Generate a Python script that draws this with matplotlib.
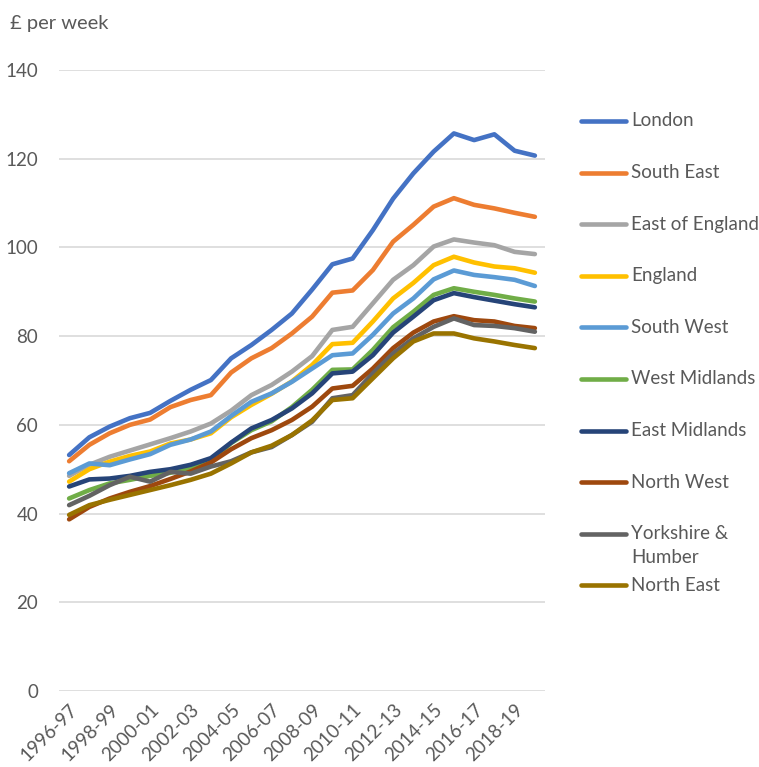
import matplotlib
matplotlib.use("Agg")
import matplotlib.pyplot as plt
from matplotlib.lines import Line2D

plt.rcParams['font.family'] = ['Lato', 'DejaVu Sans']

years = ["1996-97", "1997-98", "1998-99", "1999-00", "2000-01", "2001-02", "2002-03",
         "2003-04", "2004-05", "2005-06", "2006-07", "2007-08", "2008-09", "2009-10",
         "2010-11", "2011-12", "2012-13", "2013-14", "2014-15", "2015-16", "2016-17",
         "2017-18", "2018-19", "2019-20"]

london = [53.2, 57.2, 59.6, 61.5, 62.7, 65.4, 67.9, 70.1, 75.0, 78.0, 81.4, 85.1,
          90.5, 96.2, 97.5, 103.9, 111.0, 116.7, 121.6, 125.7, 124.2, 125.5, 121.8, 120.7]
south_east = [51.8, 55.5, 58.1, 60.0, 61.2, 64.0, 65.6, 66.7, 71.8, 75.0, 77.3, 80.6,
              84.4, 89.8, 90.3, 94.9, 101.3, 105.1, 109.2, 111.1, 109.6, 108.8, 107.8, 106.9]
east_of_england = [48.5, 51.0, 52.8, 54.2, 55.6, 57.0, 58.5, 60.3, 63.2, 66.7, 69.0, 72.0,
                   75.5, 81.4, 82.1, 87.4, 92.7, 96.0, 100.2, 101.8, 101.1, 100.5, 99.0, 98.5]
england = [47.2, 50.0, 51.7, 53.0, 54.0, 55.8, 56.7, 58.1, 61.7, 64.5, 67.0, 69.8,
           73.5, 78.2, 78.5, 83.3, 88.5, 92.0, 96.0, 97.9, 96.6, 95.7, 95.3, 94.3]
south_west = [49.1, 51.3, 50.9, 52.2, 53.4, 55.5, 56.7, 58.5, 62.0, 65.2, 67.1, 69.7,
              72.7, 75.7, 76.1, 80.3, 85.1, 88.5, 92.8, 94.8, 93.8, 93.3, 92.7, 91.3]
west_midlands = [43.4, 45.3, 46.8, 47.6, 48.5, 49.2, 50.3, 51.8, 55.9, 58.8, 60.8, 64.0,
                 67.9, 72.4, 72.5, 76.9, 82.0, 85.5, 89.3, 90.8, 90.0, 89.3, 88.5, 87.8]
east_midlands = [46.1, 47.7, 47.9, 48.5, 49.4, 50.0, 51.0, 52.5, 56.0, 59.2, 61.1, 63.7,
                 67.1, 71.6, 72.0, 75.7, 80.8, 84.4, 88.1, 89.7, 88.8, 88.0, 87.2, 86.5]
north_west = [38.7, 41.5, 43.4, 44.9, 46.2, 47.8, 49.5, 51.5, 54.5, 57.0, 58.8, 61.1,
              64.1, 68.2, 68.8, 72.7, 77.3, 80.8, 83.3, 84.5, 83.6, 83.3, 82.3, 81.8]
yorkshire = [41.9, 44.0, 46.4, 48.3, 47.2, 49.4, 49.0, 50.6, 51.8, 53.8, 55.0, 57.7,
             60.7, 66.0, 66.7, 71.6, 76.1, 79.5, 82.1, 84.0, 82.5, 82.3, 81.8, 81.0]
north_east = [39.7, 41.9, 43.1, 44.2, 45.3, 46.4, 47.6, 49.0, 51.3, 53.8, 55.3, 57.7,
              61.0, 65.6, 66.0, 70.5, 75.0, 78.8, 80.6, 80.6, 79.5, 78.8, 78.0, 77.3]

series_names = ["London", "South East", "East of England", "England", "South West",
                "West Midlands", "East Midlands", "North West", "Yorkshire &\nHumber",
                "North East"]
series_values = [london, south_east, east_of_england, england, south_west,
                 west_midlands, east_midlands, north_west, yorkshire, north_east]
colors = ["#4472C4", "#ED7D31", "#A5A5A5", "#FFC000", "#5B9BD5",
          "#70AD47", "#264478", "#9E480E", "#636363", "#997300"]

y_ticks = [0, 20, 40, 60, 80, 100, 120, 140]
x_tick_labels = years[::2]

W, H = 759, 767
TXT = '#595959'
FS = 13.5
fig = plt.figure(figsize=(W / 100, H / 100), dpi=100)
ax = fig.add_axes([59 / W, 1 - 691 / H, (545 - 59) / W, (691 - 70) / H])

x = list(range(len(years)))
for vals, c in zip(series_values, colors):
    ax.plot(x, vals, color=c, lw=3.3, solid_capstyle='round', solid_joinstyle='round', zorder=3)

ax.set_xlim(-0.5, len(years) - 0.5)
ax.set_ylim(0, 140)
ax.set_yticks(y_ticks)
ax.grid(axis='y', color='#d9d9d9', lw=1.2, zorder=0)
ax.set_axisbelow(True)
for s in ax.spines.values():
    s.set_visible(False)
ax.tick_params(axis='both', length=0, colors=TXT, labelsize=FS)
ax.tick_params(axis='y', pad=15)
ax.set_xticks(x[::2])
ax.set_xticklabels(x_tick_labels, rotation=45, ha='right', rotation_mode='anchor')
ax.tick_params(axis='x', pad=7)

fig.text(10 / W, 1 - 23 / H, "£ per week", color=TXT, fontsize=14.5,
         va='center', ha='left')

# legend
leg_y0 = 121
leg_dy = 51.6
for i, (name, c) in enumerate(zip(series_names, colors)):
    ypx = leg_y0 + i * leg_dy
    yy = 1 - ypx / H
    fig.add_artist(Line2D([581 / W, 626 / W], [yy, yy], color=c, lw=3.3,
                          solid_capstyle='round', transform=fig.transFigure))
    for j, part in enumerate(name.split("\n")):
        fig.text(631 / W, 1 - (ypx + j * 24) / H, part, color=TXT, fontsize=FS,
                 va='center', ha='left')

fig.savefig("out.png", dpi=100)
